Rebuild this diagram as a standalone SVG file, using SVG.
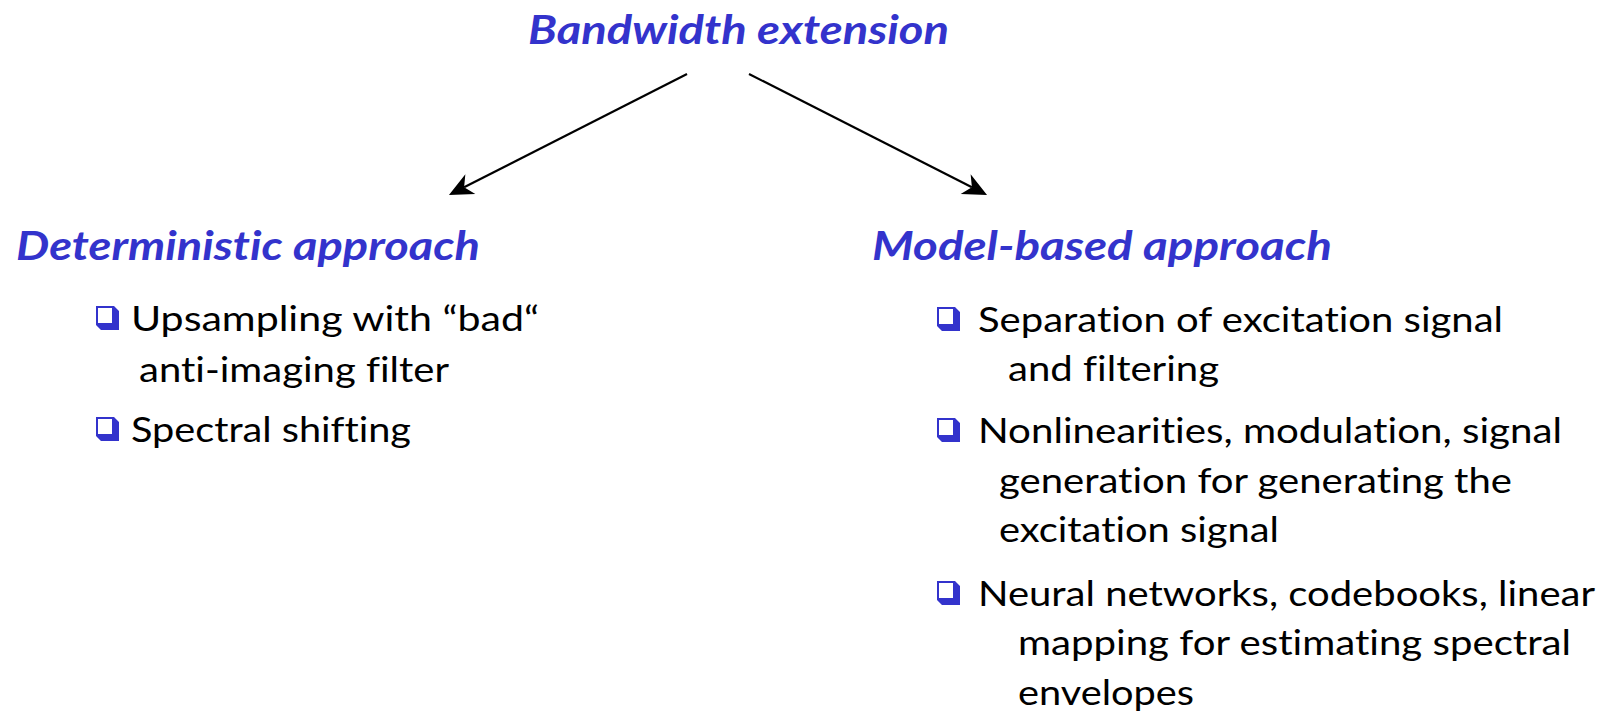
<svg xmlns="http://www.w3.org/2000/svg" width="1603" height="717" viewBox="0 0 1603 717">
<style>
text{font-variant-ligatures:none;font-feature-settings:"liga" 0,"dlig" 0}
.head{font-family:Lato,"Open Sans","Liberation Sans",sans-serif;font-weight:bold;font-style:italic;font-size:41px;fill:#3333cc}
.body{font-family:Lato,"Open Sans","Liberation Sans",sans-serif;font-size:34px;fill:#000}
.conn{stroke:#000;stroke-width:2.2;fill:none}
.bul-shadow{fill:#3333cc}
.bul-box{fill:#fff;stroke:#3333cc;stroke-width:2}
</style>
<defs>
<marker id="arrow" markerUnits="userSpaceOnUse" markerWidth="40" markerHeight="40" refX="0" refY="0" orient="auto" overflow="visible">
<path d="M17,0 L-7,-11 L0,0 L-7,11 Z" fill="#000"/>
</marker>
<g id="bullet">
<polygon class="bul-shadow" points="18,0 23,5 23,24 5,24 0,19 18,19"/>
<rect class="bul-box" x="1" y="1" width="16" height="17"/>
</g>
</defs>
<rect width="1603" height="717" fill="#fff"/>

<g id="connectors">
<line class="conn" x1="687" y1="74" x2="464.1" y2="187.3" marker-end="url(#arrow)"/>
<line class="conn" x1="749" y1="74" x2="971.9" y2="187.3" marker-end="url(#arrow)"/>
</g>

<g id="node-bandwidth">
<text class="head" x="528" y="44" textLength="421" lengthAdjust="spacingAndGlyphs">Bandwidth extension</text>
</g>

<g id="node-deterministic">
<text class="head" x="16" y="260" textLength="464" lengthAdjust="spacingAndGlyphs">Deterministic approach</text>
<use href="#bullet" x="96" y="306"/>
<text class="body" x="131" y="331" textLength="408" lengthAdjust="spacingAndGlyphs">Upsampling with “bad“</text>
<text class="body" x="139" y="382" textLength="310" lengthAdjust="spacingAndGlyphs">anti-imaging filter</text>
<use href="#bullet" x="96" y="417"/>
<text class="body" x="131" y="442" textLength="280" lengthAdjust="spacingAndGlyphs">Spectral shifting</text>
</g>

<g id="node-model">
<text class="head" x="872" y="260" textLength="460" lengthAdjust="spacingAndGlyphs">Model-based approach</text>
<use href="#bullet" x="937" y="307"/>
<text class="body" x="978" y="332" textLength="525" lengthAdjust="spacingAndGlyphs">Separation of excitation signal</text>
<text class="body" x="1008" y="381" textLength="211" lengthAdjust="spacingAndGlyphs">and filtering</text>
<use href="#bullet" x="937" y="418"/>
<text class="body" x="978" y="443" textLength="584" lengthAdjust="spacingAndGlyphs">Nonlinearities, modulation, signal</text>
<text class="body" x="999" y="493" textLength="513" lengthAdjust="spacingAndGlyphs">generation for generating the</text>
<text class="body" x="999" y="542" textLength="280" lengthAdjust="spacingAndGlyphs">excitation signal</text>
<use href="#bullet" x="937" y="581"/>
<text class="body" x="978" y="606" textLength="617" lengthAdjust="spacingAndGlyphs">Neural networks, codebooks, linear</text>
<text class="body" x="1018" y="655" textLength="553" lengthAdjust="spacingAndGlyphs">mapping for estimating spectral</text>
<text class="body" x="1018" y="705" textLength="176" lengthAdjust="spacingAndGlyphs">envelopes</text>
</g>
</svg>
